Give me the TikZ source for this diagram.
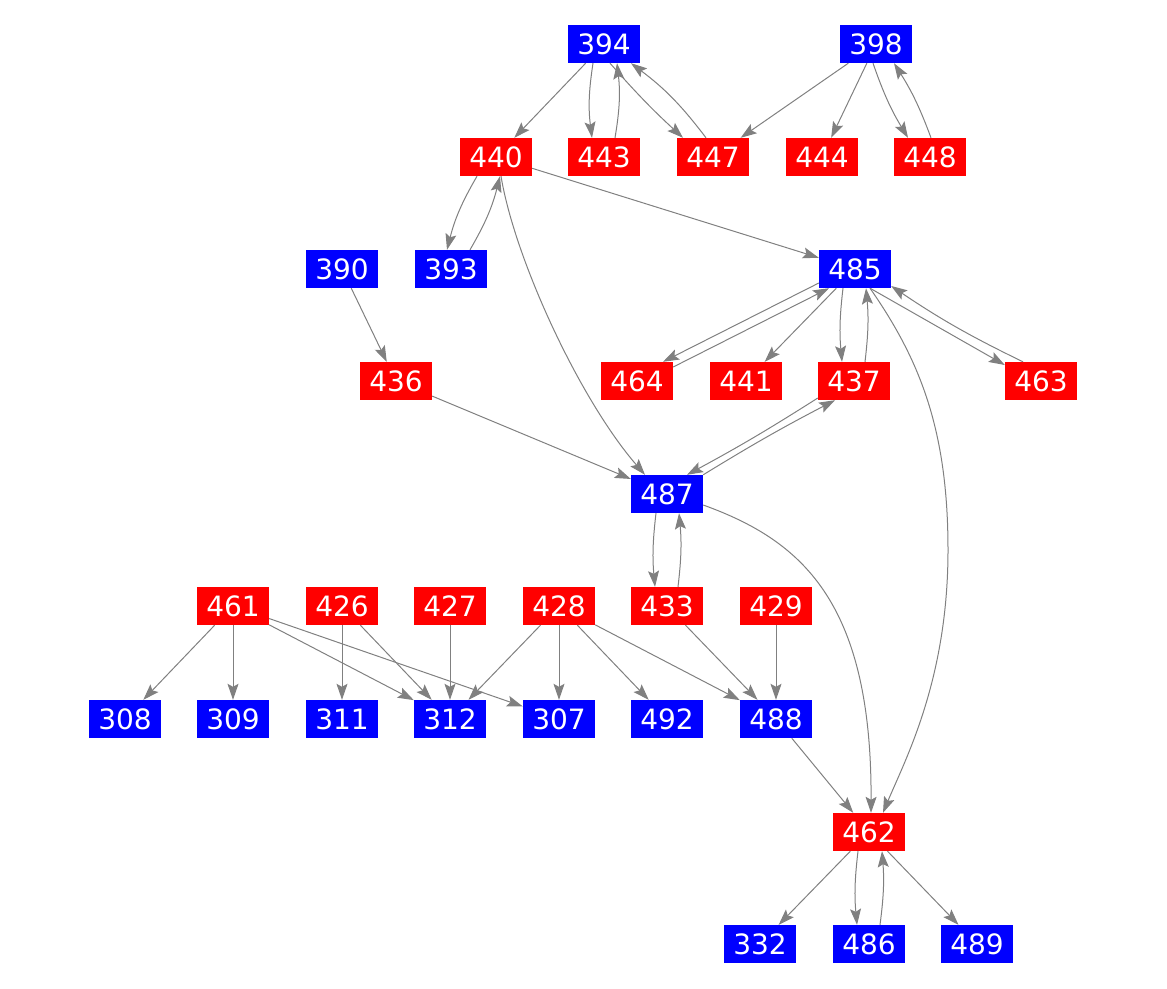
\documentclass[tikz,border=0pt]{standalone}
\usepackage{fontspec}
\setmainfont{DejaVu Sans}
\usetikzlibrary{arrows.meta,calc}
\definecolor{edgegray}{RGB}{128,128,128}
\definecolor{nblue}{RGB}{0,0,255}
\definecolor{nred}{RGB}{255,0,0}
\tikzset{
  nbox/.style={rectangle, minimum width=72pt, minimum height=38pt, inner sep=0pt, text=white, font=\fontsize{28}{30}\selectfont},
  bnode/.style={nbox, fill=nblue},
  rnode/.style={nbox, fill=nred},
  edge/.style={draw=edgegray, line width=1pt, -{Stealth[length=16pt,width=11pt,inset=3pt]}},
}
\begin{document}
\begin{tikzpicture}[x=1pt,y=-1pt]
\useasboundingbox (0,0) rectangle (1167,988);
% nodes
\node[bnode] (n394) at (604,44) {394};
\node[bnode] (n398) at (876,44) {398};
\node[rnode] (n440) at (496,157) {440};
\node[rnode] (n443) at (604,157) {443};
\node[rnode] (n447) at (713,157) {447};
\node[rnode] (n444) at (822,157) {444};
\node[rnode] (n448) at (930,157) {448};
\node[bnode] (n390) at (342,269) {390};
\node[bnode] (n393) at (451,269) {393};
\node[bnode] (n485) at (855,269) {485};
\node[rnode] (n436) at (396,381) {436};
\node[rnode] (n464) at (637,381) {464};
\node[rnode] (n441) at (746,381) {441};
\node[rnode] (n437) at (854,381) {437};
\node[rnode] (n463) at (1041,381) {463};
\node[bnode] (n487) at (667,494) {487};
\node[rnode] (n461) at (233,606) {461};
\node[rnode] (n426) at (342,606) {426};
\node[rnode] (n427) at (450,606) {427};
\node[rnode] (n428) at (559,606) {428};
\node[rnode] (n433) at (667,606) {433};
\node[rnode] (n429) at (776,606) {429};
\node[bnode] (n308) at (125,719) {308};
\node[bnode] (n309) at (233,719) {309};
\node[bnode] (n311) at (342,719) {311};
\node[bnode] (n312) at (450,719) {312};
\node[bnode] (n307) at (559,719) {307};
\node[bnode] (n492) at (667,719) {492};
\node[bnode] (n488) at (776,719) {488};
\node[rnode] (n462) at (869,832) {462};
\node[bnode] (n332) at (760,944) {332};
\node[bnode] (n486) at (869,944) {486};
\node[bnode] (n489) at (977,944) {489};
\coordinate (c485a) at (948,550);

% straight edges
\foreach \a/\b in {394/440, 398/447, 398/444, 440/485, 390/436, 436/487, 485/441,
  488/462, 462/332, 462/489, 461/308, 461/309, 461/312, 461/307, 426/311, 426/312,
  427/312, 428/312, 428/307, 428/492, 428/488, 433/488, 429/488}
  \draw[edge] (n\a) -- (n\b);

% paired edges
\draw[edge] ($(n394.south)+(-11,0)$) to[bend right=8] ($(n443.north)+(-12,0)$);
\draw[edge] ($(n443.north)+(11,0)$) to[bend right=8] ($(n394.south)+(13,0)$);
\draw[edge] ($(n394.south)+(6,0)$) to[bend right=3] ($(n447.north)+(-30,0)$);
\draw[edge] ($(n447.north)+(-7,0)$) to[bend right=8] ($(n394.south)+(27,0)$);
\draw[edge] ($(n398.south)+(-3,0)$) to[bend right=6] ($(n448.north)+(-22,0)$);
\draw[edge] ($(n448.north)+(1,0)$) to[bend right=6] ($(n398.south)+(18,0)$);
\draw[edge] ($(n440.south)+(-19,0)$) to[bend right=8] ($(n393.north)+(-4,0)$);
\draw[edge] ($(n393.north)+(19,0)$) to[bend right=8] ($(n440.south)+(4,0)$);
\draw[edge] ($(n485.west)+(0,14)$) -- ($(n464.north)+(26,0)$);
\draw[edge] ($(n464.east)+(0,-14)$) -- ($(n485.south)+(-26,0)$);
\draw[edge] ($(n485.south)+(-12,0)$) to[bend right=6] ($(n437.north)+(-12,0)$);
\draw[edge] ($(n437.north)+(11,0)$) to[bend right=6] ($(n485.south)+(11,0)$);
\draw[edge] ($(n485.south)+(15,0)$) -- ($(n463.west)+(0,-16)$);
\draw[edge] ($(n463.north)+(-18,0)$) to[bend left=4] ($(n485.east)+(0,17)$);
\draw[edge] ($(n437.west)+(0,17)$) to[bend left=2] ($(n487.north)+(20,0)$);
\draw[edge] (n487.north east) to[bend left=2] ($(n437.south)+(-19,0)$);
\draw[edge] ($(n487.south)+(-11,0)$) to[bend right=6] ($(n433.north)+(-12,0)$);
\draw[edge] ($(n433.north)+(11,0)$) to[bend right=6] ($(n487.south)+(12,0)$);
\draw[edge] ($(n462.south)+(-11,0)$) to[bend right=6] ($(n486.north)+(-12,0)$);
\draw[edge] ($(n486.north)+(11,0)$) to[bend right=6] ($(n462.south)+(13,0)$);

% long curves
\draw[edge] ($(n440.south)+(5,0)$) .. controls (515,260) and (580,400) .. ($(n487.north)+(-22,0)$);
\draw[edge] ($(n487.east)+(0,11)$) .. controls (800,540) and (872,600) .. ($(n462.north)+(2,0)$);
\draw[draw=edgegray, line width=1pt] ($(n485.south)+(15,0)$) .. controls (920,360) and (948,430) .. (c485a);
\draw[edge] (c485a) .. controls (948,680) and (905,760) .. ($(n462.north)+(14,0)$);
\end{tikzpicture}
\end{document}
